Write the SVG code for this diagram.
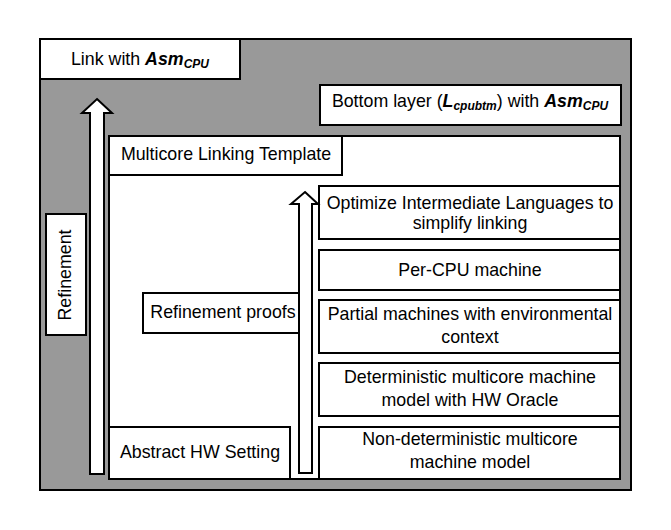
<svg xmlns="http://www.w3.org/2000/svg" width="671" height="530" viewBox="0 0 671 530">
<style>
.box{fill:#fff;stroke:#000;stroke-width:2}
.arrow{fill:#fff;stroke:#000;stroke-width:2;stroke-linejoin:miter}
text{font-family:"Liberation Sans",Arial,sans-serif;font-size:17.8px;fill:#000}
.c{text-anchor:middle}
.bi{font-weight:bold;font-style:italic}
.sub{font-size:12px;font-weight:bold;font-style:italic}
</style>
<rect width="671" height="530" fill="#fff"/>
<g id="outer"><rect x="40" y="39" width="591" height="451" fill="#999999" stroke="#000" stroke-width="2"/></g>
<g id="link"><rect class="box" x="40" y="39" width="200" height="40"/>
<text class="c" x="140" y="65">Link with <tspan class="bi">Asm</tspan><tspan class="sub" dy="3">CPU</tspan></text></g>
<g id="bottom"><rect class="box" x="320" y="85" width="301" height="40"/>
<text class="c" x="470" y="107">Bottom layer (<tspan class="bi">L</tspan><tspan class="sub" dy="3">cpubtm</tspan><tspan dy="-3">) with </tspan><tspan class="bi">Asm</tspan><tspan class="sub" dy="3">CPU</tspan></text></g>
<g id="refinement"><rect class="box" x="46" y="214" width="40" height="121"/>
<text class="c" transform="translate(71,275) rotate(-90)">Refinement</text></g>
<g id="template"><rect class="box" x="109" y="136" width="511" height="343"/>
<rect class="box" x="109" y="136" width="233" height="39"/>
<text class="c" x="226" y="160">Multicore Linking Template</text></g>
<g id="abstract"><rect class="box" x="109" y="427" width="181" height="52"/>
<text class="c" x="200" y="458">Abstract HW Setting</text></g>
<g id="proofs"><rect class="box" x="143" y="293" width="161" height="40"/>
<text class="c" x="223" y="318">Refinement proofs</text></g>
<g id="optimize"><rect class="box" x="319" y="186" width="301" height="53"/>
<text class="c" x="470" y="209">Optimize Intermediate Languages to</text>
<text class="c" x="470" y="229">simplify linking</text></g>
<g id="percpu"><rect class="box" x="319" y="250" width="301" height="40"/>
<text class="c" x="470" y="276">Per-CPU machine</text></g>
<g id="partial"><rect class="box" x="319" y="300" width="301" height="53"/>
<text class="c" x="470" y="320">Partial machines with environmental</text>
<text class="c" x="470" y="343">context</text></g>
<g id="deterministic"><rect class="box" x="319" y="363" width="301" height="53"/>
<text class="c" x="470" y="383">Deterministic multicore machine</text>
<text class="c" x="470" y="406">model with HW Oracle</text></g>
<g id="nondeterministic"><rect class="box" x="319" y="427" width="301" height="52"/>
<text class="c" x="470" y="445">Non-deterministic multicore</text>
<text class="c" x="470" y="468">machine model</text></g>
<g id="connectors">
<polygon class="arrow" points="97,99 112,113 104,113 104,474 90,474 90,113 82,113"/>
<polygon class="arrow" points="305,192 318,204 312,204 312,473 299,473 299,204 291,204"/>
</g>
</svg>
